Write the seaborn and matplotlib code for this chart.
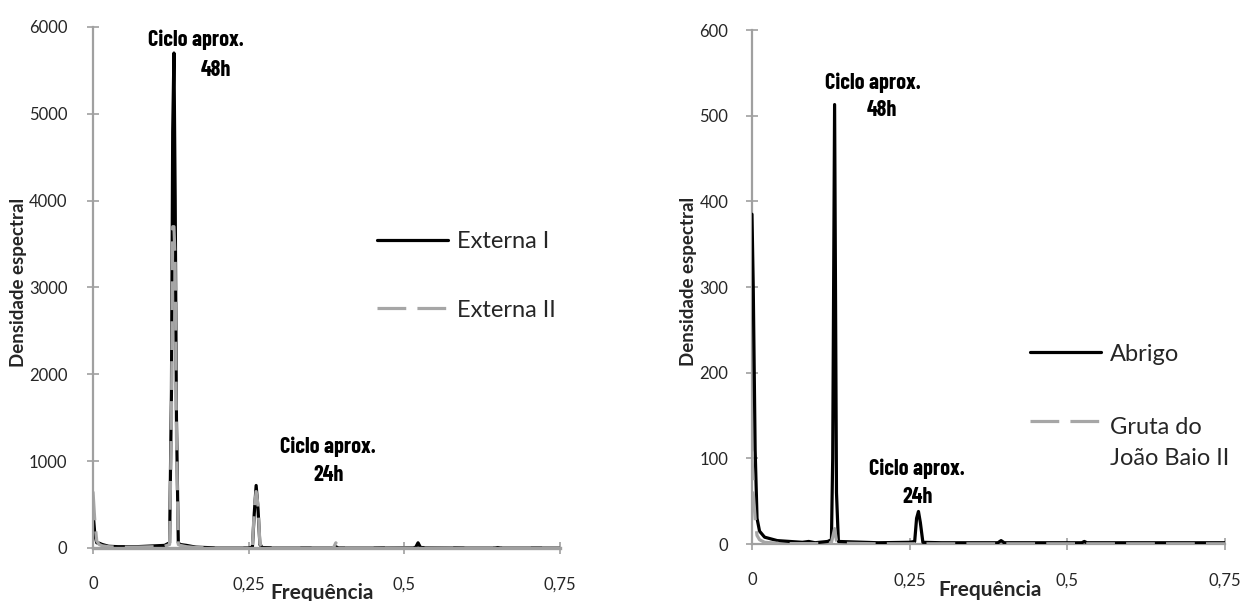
import matplotlib
matplotlib.use("Agg")
import matplotlib.pyplot as plt
import seaborn as sns
from matplotlib import font_manager as fm

# ---------------- data ----------------
freq_ext = [0, 0.003, 0.006, 0.01, 0.015, 0.025, 0.04, 0.07, 0.10, 0.115, 0.123, 0.126,
            0.128, 0.130, 0.132, 0.134, 0.137, 0.14, 0.15, 0.165, 0.2, 0.25, 0.256, 0.259,
            0.262, 0.265, 0.268, 0.272, 0.3, 0.386, 0.390, 0.394, 0.40, 0.45, 0.518, 0.522,
            0.526, 0.6, 0.646, 0.650, 0.654, 0.75]
externa_1 = [420, 150, 60, 55, 40, 20, 15, 15, 25, 30, 60, 1800,
             4800, 5700, 4000, 1500, 60, 40, 30, 10, 0, 0, 10, 400,
             720, 450, 40, 5, 0, 0, 15, 0, 0, 0, 5, 60,
             5, 0, 0, 5, 0, 0]
externa_2 = [650, 300, 80, 40, 25, 15, 10, 10, 15, 20, 40, 1500,
             3700, 3700, 3300, 1300, 40, 30, 15, 5, 0, 0, 10, 450,
             650, 500, 50, 5, 0, 0, 60, 0, 0, 0, 0, 10,
             0, 0, 0, 30, 0, 0]

freq_abr = [0, 0.002, 0.005, 0.008, 0.012, 0.02, 0.04, 0.06, 0.08, 0.09, 0.10, 0.12,
            0.126, 0.128, 0.131, 0.134, 0.137, 0.2, 0.25, 0.258, 0.261, 0.264, 0.267, 0.271,
            0.3, 0.39, 0.395, 0.40, 0.5, 0.523, 0.527, 0.531, 0.6, 0.75]
abrigo = [385, 300, 110, 30, 15, 8, 4, 3, 2, 3, 1.5, 3,
          5, 100, 513, 60, 3, 1.5, 2, 3, 30, 38, 25, 2,
          1.5, 1.5, 4, 1.5, 1.5, 1.5, 3, 1.5, 1.5, 1.5]
gruta = [108, 60, 30, 10, 5, 2, 1, 0.5, 0.5, 0.5, 0.5, 1,
         2, 8, 18, 4, 1, 0.3, 0.3, 0.3, 1, 1.5, 1, 0.3,
         0.3, 0.3, 0.5, 0.3, 0.3, 0.3, 0.3, 0.3, 0.3, 0.3]

x_ticks = [0, 0.25, 0.5, 0.75]
x_tick_labels = ["0", "0,25", "0,5", "0,75"]
y_ticks_left = [0, 1000, 2000, 3000, 4000, 5000, 6000]
y_ticks_right = [0, 100, 200, 300, 400, 500, 600]

# ---------------- style ----------------
sns.set_theme(style="white")
plt.rcParams["font.family"] = ["Lato", "DejaVu Sans"]


def has_font(name):
    try:
        fm.findfont(fm.FontProperties(family=name), fallback_to_default=False)
        return True
    except Exception:
        return False


ann_family = "Barlow Condensed" if has_font("Barlow Condensed") else "DejaVu Sans"
ann_kw = dict(family=ann_family, fontweight="bold", fontsize=16, ha="center",
              va="center", color="black")

BLACK = "#000000"
GRAY = "#A6A6A6"
AXC = "#A0A0A0"
TXT = "#262626"

fig = plt.figure(figsize=(12.45, 6.01), dpi=100)
axL = fig.add_axes([0.0747, 0.0882, 0.3751, 0.8669])
axR = fig.add_axes([0.6040, 0.0948, 0.3799, 0.8552])


def style_axes(ax, yticks, ymax, ylabel_x, xlabel_y, ypad):
    ax.set_xlim(0, 0.75)
    ax.set_ylim(0, ymax)
    ax.set_xticks(x_ticks)
    ax.set_xticklabels(x_tick_labels)
    ax.set_yticks(yticks)
    ax.set_yticklabels([str(v) for v in yticks])
    for s in ["top", "right"]:
        ax.spines[s].set_visible(False)
    for s in ["left", "bottom"]:
        ax.spines[s].set_color(AXC)
        ax.spines[s].set_linewidth(1.6)
    ax.tick_params(axis="x", direction="inout", length=9, width=1.2, color=AXC,
                   pad=16, labelsize=12, labelcolor=TXT, bottom=True)
    ax.tick_params(axis="y", direction="inout", length=9, width=1.2, color=AXC,
                   pad=ypad, labelsize=12, labelcolor=TXT, left=True)
    ax.set_xlabel("Frequência", fontweight="bold", fontsize=15, color=TXT)
    ax.set_ylabel("Densidade espectral", fontweight="bold", fontsize=13.5, color=TXT)
    ax.xaxis.set_label_coords(0.49, xlabel_y)
    ax.yaxis.set_label_coords(ylabel_x, 0.51)
    ax.grid(False)


# ---------------- left panel ----------------
sns.lineplot(x=freq_ext, y=externa_1, ax=axL, color=BLACK, lw=2.3, estimator=None,
             sort=False, label="Externa I")
sns.lineplot(x=freq_ext, y=externa_2, ax=axL, color=GRAY, lw=2.3, estimator=None,
             sort=False, linestyle=(0, (9, 3.5)), label="Externa II")
style_axes(axL, y_ticks_left, 6000, -0.141, -0.067, 14)
axL.spines["bottom"].set_zorder(5)
axL.spines["bottom"].set_linewidth(2.4)
legL = axL.legend(handles=axL.get_lines()[:2], labels=["Externa I", "Externa II"],
                  loc="center left", bbox_to_anchor=(0.608, 0.522), frameon=False,
                  fontsize=17, handlelength=3.0, handletextpad=0.4, labelspacing=2.0,
                  borderpad=0, borderaxespad=0, labelcolor=TXT)

axL.text(0.165, 5850, "Ciclo aprox.", **ann_kw)
axL.text(0.1975, 5505, "48h", **ann_kw)
axL.text(0.378, 1170, "Ciclo aprox.", **ann_kw)
axL.text(0.378, 840, "24h", **ann_kw)

# ---------------- right panel ----------------
sns.lineplot(x=freq_abr, y=abrigo, ax=axR, color=BLACK, lw=2.3, estimator=None,
             sort=False, label="Abrigo", zorder=3)
sns.lineplot(x=freq_abr, y=gruta, ax=axR, color=GRAY, lw=2.3, estimator=None,
             sort=False, linestyle=(0, (9, 3.5)), label="Gruta do\nJoão Baio II", zorder=3)
style_axes(axR, y_ticks_right, 600, -0.116, -0.07, 12.5)
axR.xaxis.set_label_coords(0.503, -0.07)
legR = axR.legend(handles=axR.get_lines()[:2], labels=["Abrigo", "Gruta do\nJoão Baio II"],
                  loc="center left", bbox_to_anchor=(0.588, 0.268), frameon=False,
                  fontsize=17, handlelength=3.0, handletextpad=0.4, labelspacing=2.2,
                  borderpad=0, borderaxespad=0, labelcolor=TXT)
legR.get_texts()[1].set_linespacing(1.6)
# put the dashed handle next to the first line of its two-line label
h = legR.legend_handles[1]
h.set_ydata([y + 15.5 for y in h.get_ydata()])

axR.text(0.192, 538, "Ciclo aprox.", **ann_kw)
axR.text(0.206, 507, "48h", **ann_kw)
axR.text(0.262, 87.5, "Ciclo aprox.", **ann_kw)
axR.text(0.262, 55, "24h", **ann_kw)

fig.savefig("out.png", dpi=100)
